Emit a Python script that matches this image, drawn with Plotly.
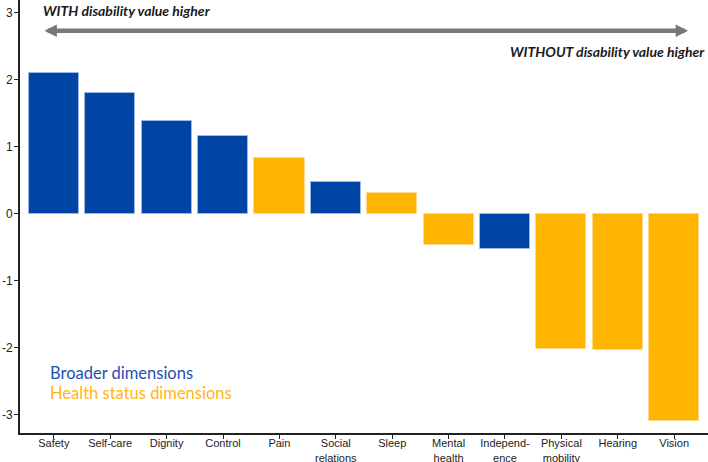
import plotly.graph_objects as go

categories = ["Safety", "Self-care", "Dignity", "Control", "Pain", "Social relations",
              "Sleep", "Mental health", "Independence", "Physical mobility", "Hearing", "Vision"]
tick_labels = ["Safety", "Self-care", "Dignity", "Control", "Pain", "Social<br>relations",
               "Sleep", "Mental<br>health", "Independ-<br>ence", "Physical<br>mobility", "Hearing", "Vision"]
values = [2.10, 1.80, 1.39, 1.16, 0.83, 0.48, 0.31, -0.46, -0.52, -2.01, -2.03, -3.09]
groups = ["Broader", "Broader", "Broader", "Broader", "Health", "Broader",
          "Health", "Health", "Broader", "Health", "Health", "Health"]
y_ticks = [-3, -2, -1, 0, 1, 2, 3]
y_tick_labels = ["-3", "-2", "-1", "0", "1", "2", "3"]

BLUE = "#0045A6"
ORANGE = "#FFB400"
fill = {"Broader": BLUE, "Health": ORANGE}
edge = {"Broader": "#9DB8E6", "Health": "#FFD98A"}

fig = go.Figure()
fig.add_trace(go.Bar(
    x=list(range(len(categories))), y=values,
    width=0.89,
    marker=dict(color=[fill[g] for g in groups],
                line=dict(color=[edge[g] for g in groups], width=1)),
    hovertext=categories, showlegend=False,
))

fig.update_layout(
    width=708, height=462,
    margin=dict(l=20, r=0, t=0, b=29),
    plot_bgcolor="white", paper_bgcolor="white",
    font=dict(family="Liberation Sans, Arial, sans-serif", color="#222"),
    bargap=0,
    xaxis=dict(range=[-0.6, 11.6], tickmode="array",
               tickvals=list(range(len(categories))), ticktext=tick_labels,
               showline=True, linecolor="#222", linewidth=2,
               ticks="outside", ticklen=4, tickcolor="#222", ticklabelstandoff=-5,
               tickfont=dict(size=11, color="#222"), showgrid=False, zeroline=False,
               automargin=False),
    yaxis=dict(range=[-3.27, 3.19], tickmode="array", tickvals=y_ticks,
               ticktext=y_tick_labels,
               showline=True, linecolor="#222", linewidth=2,
               ticks="outside", ticklen=4, tickcolor="#222", ticklabelstandoff=-1,
               tickfont=dict(size=12, color="#222"), showgrid=False, zeroline=False,
               automargin=False),
)

# double-headed arrow
fig.add_annotation(xref="x domain", yref="y domain", x=0.971, y=0.929,
                   ax=0.0334, ay=0.929, axref="x domain", ayref="y domain",
                   text="", showarrow=True, arrowhead=2, arrowside="end+start",
                   arrowsize=0.55, arrowwidth=4.5, arrowcolor="#787878")
fig.add_annotation(xref="paper", yref="paper", x=0.0305, y=0.9746,
                   xanchor="left", yanchor="middle", showarrow=False,
                   text="<b><i>WITH disability value higher</i></b>",
                   font=dict(size=14, color="#1a1a1a", family="Lato, sans-serif"))
fig.add_annotation(xref="paper", yref="paper", x=0.999, y=0.880,
                   xanchor="right", yanchor="middle", showarrow=False,
                   text="<b><i>WITHOUT disability value higher</i></b>",
                   font=dict(size=14, color="#1a1a1a", family="Lato, sans-serif"))
fig.add_annotation(xref="paper", yref="paper", x=0.0407, y=0.1386,
                   xanchor="left", yanchor="middle", showarrow=False,
                   text="Broader dimensions",
                   font=dict(size=16.5, color="#1F4FAF", family="Lato, sans-serif"))
fig.add_annotation(xref="paper", yref="paper", x=0.0407, y=0.0924,
                   xanchor="left", yanchor="middle", showarrow=False,
                   text="Health status dimensions",
                   font=dict(size=16.5, color="#FFB51A", family="Lato, sans-serif"))

fig.write_html("out.html", config={"displayModeBar": False},
               post_script="document.body.style.margin='0';document.body.style.overflow='hidden';")
